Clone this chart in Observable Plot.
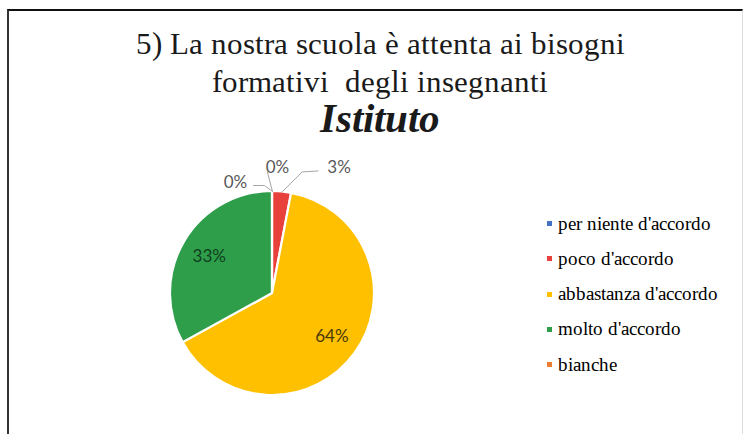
<!DOCTYPE html>
<html>
<head>
<meta charset="utf-8">
<script src="https://cdn.jsdelivr.net/npm/d3@7"></script>
<script src="https://cdn.jsdelivr.net/npm/@observablehq/plot@0.6"></script>
<style>
  @font-face { font-family: "TitleSerif"; src: local("Liberation Serif"), local("LiberationSerif"); font-weight: normal; font-style: normal; }
  @font-face { font-family: "TitleSerif"; src: local("Liberation Serif Bold Italic"), local("LiberationSerif-BoldItalic"); font-weight: bold; font-style: italic; }
  html, body { margin: 0; padding: 0; background: #fff; }
  #wrap { position: relative; width: 744px; height: 434px; overflow: hidden; }
  #wrap > svg { position: absolute; left: 0; top: 0; }
  #frame { position: absolute; left: 7px; top: 9px; width: 733px; height: 440px;
           border-top: 2px solid #111; border-left: 2px solid #333; border-right: 1px solid #ddd; pointer-events: none; }
  .ttl { position: absolute; left: 0; width: 760px; text-align: center; white-space: pre; color: #1a1a1a; line-height: 0.8;
         font-family: "TitleSerif", "Liberation Serif"; }
  #legendBox { position: absolute; left: 547px; top: 206px; }
  #legendBox .lg { font-family: "TitleSerif", "Liberation Serif" !important; font-size: 19px !important; color: #333 !important; margin: 0 !important; }
  #legendBox .lg-swatch { height: 35.25px; padding: 0 !important; margin: 0 !important; }
  #legendBox .lg-swatch > svg { margin-right: 6px !important; }
</style>
</head>
<body>
<div id="wrap">
  <div id="frame"></div>
  <div class="ttl" id="t1" style="font-size:31px; top:32px">5) La nostra scuola è attenta ai bisogni</div>
  <div class="ttl" id="t2" style="font-size:31px; top:70px">formativi  degli insegnanti</div>
  <div class="ttl" id="t3" style="font-size:41px; font-style:italic; font-weight:bold; top:102px">Istituto</div>
</div>
<script>
// ---- data ----
const categories = ["per niente d'accordo", "poco d'accordo", "abbastanza d'accordo", "molto d'accordo", "bianche"];
const values = [0, 3, 64, 33, 0];
const colors = ["#4472C4", "#E8403A", "#FFC000", "#2E9E4B", "#ED7D31"];
const labelColors = ["#595959", "#595959", "#4A3A08", "#0F3F1C", "#595959"];
const outsideLabel = [true, true, false, false, true];

// ---- layout ----
const W = 744, H = 434;
const cx = 272, cy = 293, R = 102;
const labelShift = [[5, -24], [57, -24], null, null, [-37, -9]];
const leaderBends = [[[-5, -19]], [[20, -20], [36, -21]], null, null, [[-8, -6], [-19, -6]]];
const SANS = "Lato";
const SERIF = "TitleSerif";

const total = d3.sum(values);
const arcs = d3.pie().sort(null).value(d => d)(values);
const arcGen = d3.arc().innerRadius(0).outerRadius(R);

const slices = arcs.map((a, i) => {
  const mid = (a.startAngle + a.endAngle) / 2;
  const pct = Math.round(values[i] / total * 100) + "%";
  const ex = cx + Math.sin(mid) * R, ey = cy - Math.cos(mid) * R;
  const k = 0.72;
  let lx, ly;
  if (outsideLabel[i]) { lx = ex + labelShift[i][0]; ly = ey + labelShift[i][1]; }
  else { lx = cx + Math.sin(mid) * R * k; ly = cy - Math.cos(mid) * R * k; }
  return {i, cat: categories[i], pct, mid, ex, ey, lx, ly};
});

const leaders = [];
slices.forEach(s => {
  if (!outsideLabel[s.i]) return;
  leaders.push({id: s.i, x: s.ex, y: s.ey});
  leaderBends[s.i].forEach(([dx, dy]) => leaders.push({id: s.i, x: s.ex + dx, y: s.ey + dy}));
});

const pieMark = (index, scales) => {
  const g = d3.create("svg:g").attr("transform", `translate(${scales.x(cx)},${scales.y(cy)})`);
  g.selectAll("path").data(arcs).join("path")
    .attr("d", arcGen)
    .attr("fill", (d, i) => scales.color(categories[i]))
    .attr("stroke", "#fff")
    .attr("stroke-width", 2.2)
    .attr("stroke-linejoin", "round");
  return g.node();
};

const chart = Plot.plot({
  width: W, height: H,
  margin: 0,
  x: {type: "identity", axis: null},
  y: {type: "identity", axis: null},
  color: {domain: categories, range: colors},
  marks: [
    pieMark,
    Plot.line(leaders, {x: "x", y: "y", z: "id", stroke: "#A6A6A6", strokeWidth: 1}),
    Plot.text(slices, {x: "lx", y: "ly", text: "pct", fill: (d) => labelColors[d.i], fontSize: 17, fontFamily: SANS})
  ]
});
d3.select(chart).selectAll("text").attr("font-family", SANS).style("font-family", SANS);

const wrap = document.getElementById("wrap");
wrap.prepend(chart);

// legend from the plot's color scale
const lgBox = document.createElement("div");
lgBox.id = "legendBox";
const lg = chart.legend("color", {columns: 1, swatchSize: 5, className: "lg"});
lg.style.fontFamily = SERIF;
lg.style.fontSize = "19px";
lgBox.append(lg);
wrap.append(lgBox);
</script>
</body>
</html>
